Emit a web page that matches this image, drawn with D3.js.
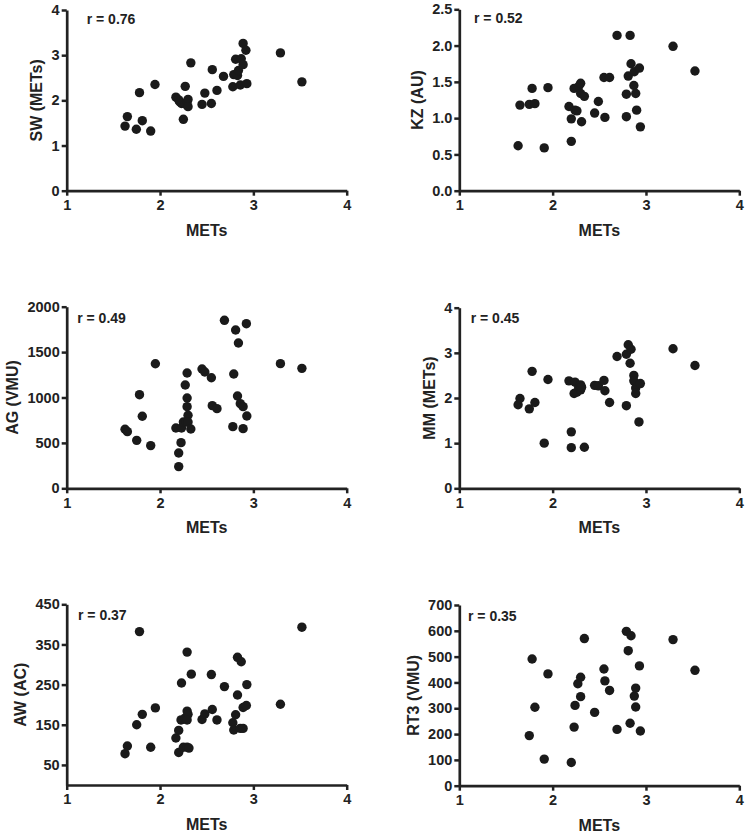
<!DOCTYPE html>
<html>
<head>
<meta charset="utf-8">
<script src="https://cdn.jsdelivr.net/npm/d3@7"></script>
<style>
  body { margin: 0; background: #fff; }
  text { font-family: "Liberation Sans", Arial, sans-serif; font-weight: bold; fill: #222; }
</style>
</head>
<body>
<svg id="chart" width="747" height="835"></svg>
<script>
// x axis is METs for every panel
const metsTicks = [1, 2, 3, 4];

const swData = [[1.625,1.43],[1.65,1.64],[1.746,1.36],[1.78,2.17],[1.81,1.55],[1.90,1.32],[1.946,2.35],
  [2.17,2.07],[2.20,2.01],[2.21,1.97],[2.23,1.93],[2.25,1.58],[2.27,2.31],[2.27,1.92],[2.29,1.97],
  [2.30,2.02],[2.30,1.86],[2.33,2.83],[2.45,1.91],[2.48,2.16],[2.55,1.93],[2.56,2.68],[2.61,2.22],
  [2.68,2.53],[2.78,2.30],[2.79,2.57],[2.81,2.91],[2.83,2.55],[2.84,2.66],[2.86,2.34],[2.87,2.92],
  [2.89,3.26],[2.89,2.79],[2.92,3.11],[2.93,2.37],[3.29,3.05],[3.52,2.41]];
const swTicks = [0, 1, 2, 3, 4];

const kzData = [[1.63,0.62],[1.65,1.18],[1.75,1.19],[1.78,1.41],[1.81,1.20],[1.91,0.59],[1.95,1.42],
  [2.175,1.16],[2.20,0.99],[2.20,0.68],[2.23,1.41],[2.24,1.11],[2.26,1.10],[2.28,1.44],[2.30,1.48],
  [2.30,1.34],[2.31,0.95],[2.34,1.30],[2.45,1.07],[2.49,1.23],[2.56,1.01],[2.55,1.56],[2.61,1.56],
  [2.69,2.14],[2.79,1.02],[2.79,1.33],[2.81,1.58],[2.83,2.14],[2.84,1.75],[2.87,1.45],[2.875,1.64],
  [2.89,1.34],[2.90,1.11],[2.93,1.69],[2.94,0.88],[3.29,1.99],[3.525,1.65]];
const kzTicks = [0, 0.5, 1, 1.5, 2, 2.5];

const agData = [[1.625,650],[1.65,624],[1.75,528],[1.78,1031],[1.81,793],[1.90,470],[1.95,1372],
  [2.17,664],[2.20,389],[2.20,239],[2.225,503],[2.23,664],[2.25,730],[2.27,1138],[2.28,730],
  [2.29,994],[2.29,899],[2.30,804],[2.30,730],[2.29,1270],[2.33,653],[2.45,1314],[2.48,1281],
  [2.55,1218],[2.56,910],[2.61,877],[2.69,1850],[2.79,1259],[2.78,679],[2.81,1743],[2.84,1600],
  [2.83,1017],[2.86,932],[2.89,899],[2.89,657],[2.925,1813],[2.93,796],[3.29,1373],[3.52,1321]];
const agTicks = [0, 500, 1000, 1500, 2000];

const mmData = [[1.63,1.85],[1.65,1.99],[1.75,1.76],[1.78,2.59],[1.81,1.90],[1.91,1.00],[1.95,2.41],
  [2.175,2.38],[2.20,1.25],[2.20,0.90],[2.23,2.10],[2.24,2.35],[2.26,2.13],[2.28,2.24],[2.30,2.29],
  [2.30,2.18],[2.31,2.24],[2.34,0.91],[2.45,2.28],[2.49,2.27],[2.55,2.39],[2.56,2.16],[2.61,1.90],
  [2.69,2.92],[2.79,1.83],[2.79,2.97],[2.81,3.18],[2.83,2.77],[2.84,3.08],[2.87,2.50],[2.87,2.38],
  [2.89,2.22],[2.89,2.10],[2.94,2.32],[2.925,1.47],[3.29,3.09],[3.525,2.72]];
const mmTicks = [0, 1, 2, 3, 4];

const awData = [[1.625,78],[1.65,97],[1.75,150],[1.78,382],[1.81,176],[1.90,94],[1.95,192],
  [2.17,117],[2.20,136],[2.20,81],[2.23,254],[2.225,162],[2.25,94],[2.27,167],[2.29,94],
  [2.29,331],[2.29,184],[2.30,176],[2.29,162],[2.31,92],[2.335,276],[2.45,163],[2.48,177],
  [2.55,275],[2.56,188],[2.61,162],[2.69,245],[2.78,155],[2.79,137],[2.81,175],[2.83,318],
  [2.83,224],[2.87,307],[2.86,141],[2.89,141],[2.89,193],[2.925,198],[2.93,250],[3.29,201],[3.52,393]];
const awTicks = [50, 150, 250, 350, 450];

const rt3Data = [[1.75,194],[1.78,491],[1.81,304],[1.91,103],[1.95,433],[2.20,90],[2.23,227],
  [2.24,311],[2.27,395],[2.30,420],[2.30,345],[2.34,570],[2.45,284],[2.55,452],[2.56,406],
  [2.61,369],[2.69,218],[2.79,598],[2.81,523],[2.84,581],[2.83,242],[2.875,347],[2.89,378],
  [2.89,305],[2.93,464],[2.94,212],[3.29,566],[3.525,447]];
const rt3Ticks = [0, 100, 200, 300, 400, 500, 600, 700];

const yLabels = ['SW (METs)', 'KZ (AU)', 'AG (VMU)', 'MM (METs)', 'AW (AC)', 'RT3 (VMU)'];
const rLabels = ['r = 0.76', 'r = 0.52', 'r = 0.49', 'r = 0.45', 'r = 0.37', 'r = 0.35'];

const panels = [
  { data: swData,  ticks: swTicks,  yMax: 4,    fmt: d3.format('d'),   left: 66.7,  top: 10,    bottom: 190.7, rx: 20,   ry: 14 },
  { data: kzData,  ticks: kzTicks,  yMax: 2.5,  fmt: d3.format('.1f'), left: 459.3, top: 9.3,   bottom: 190.7, rx: 14.7, ry: 14 },
  { data: agData,  ticks: agTicks,  yMax: 2000, fmt: d3.format('d'),   left: 66.7,  top: 306.7, bottom: 488.3, rx: 10.5, ry: 16.5 },
  { data: mmData,  ticks: mmTicks,  yMax: 4,    fmt: d3.format('d'),   left: 459.3, top: 307.7, bottom: 488.3, rx: 11.4, ry: 15.5 },
  { data: awData,  ticks: awTicks,  yMax: 450,  fmt: d3.format('d'),   left: 66.7,  top: 604.3, bottom: 785,   rx: 11.3, ry: 16 },
  { data: rt3Data, ticks: rt3Ticks, yMax: 700,  fmt: d3.format('d'),   left: 459.3, top: 605,   bottom: 785.7, rx: 8.7,  ry: 16 }
];

const svg = d3.select('#chart');
const plotW = 280;

panels.forEach((p, i) => {
  const x = d3.scaleLinear().domain([1, 4]).range([p.left, p.left + plotW]);
  const y = d3.scaleLinear().domain([0, p.yMax]).range([p.bottom, p.top]);
  const g = svg.append('g');

  const gx = g.append('g')
    .attr('transform', `translate(0,${p.bottom})`)
    .call(d3.axisBottom(x).tickValues(metsTicks).tickFormat(d3.format('d')).tickSize(5).tickSizeOuter(0).tickPadding(4));

  const gy = g.append('g')
    .attr('transform', `translate(${p.left},0)`)
    .call(d3.axisLeft(y).tickValues(p.ticks).tickFormat(p.fmt).tickSize(5).tickSizeOuter(0).tickPadding(2));

  [gx, gy].forEach(a => {
    a.select('.domain').attr('stroke', '#222').attr('stroke-width', 2.7);
    a.selectAll('.tick line').attr('stroke', '#222').attr('stroke-width', 2.5);
    a.selectAll('.tick text').attr('font-size', 14.5).attr('fill', '#222')
      .style('font-family', '"Liberation Sans", Arial, sans-serif').style('font-weight', 'bold');
  });

  // y label sits just left of the widest tick label (bbox is local to gy)
  const bb = gy.node().getBBox();
  const cy = (p.top + p.bottom) / 2;
  g.append('text')
    .attr('transform', `translate(${p.left + bb.x - 15},${cy}) rotate(-90)`)
    .attr('text-anchor', 'middle')
    .attr('dominant-baseline', 'central')
    .attr('font-size', 16)
    .text(yLabels[i]);

  g.append('text')
    .attr('x', p.left + plotW / 2)
    .attr('y', p.bottom + 45)
    .attr('text-anchor', 'middle')
    .attr('font-size', 16)
    .text('METs');

  g.append('text')
    .attr('x', p.left + p.rx)
    .attr('y', p.top + p.ry)
    .attr('font-size', 14)
    .text(rLabels[i]);

  g.selectAll('circle')
    .data(p.data)
    .join('circle')
    .attr('cx', d => x(d[0]))
    .attr('cy', d => y(d[1]))
    .attr('r', 4.7)
    .attr('fill', '#1a1a1a');
});
</script>
</body>
</html>
